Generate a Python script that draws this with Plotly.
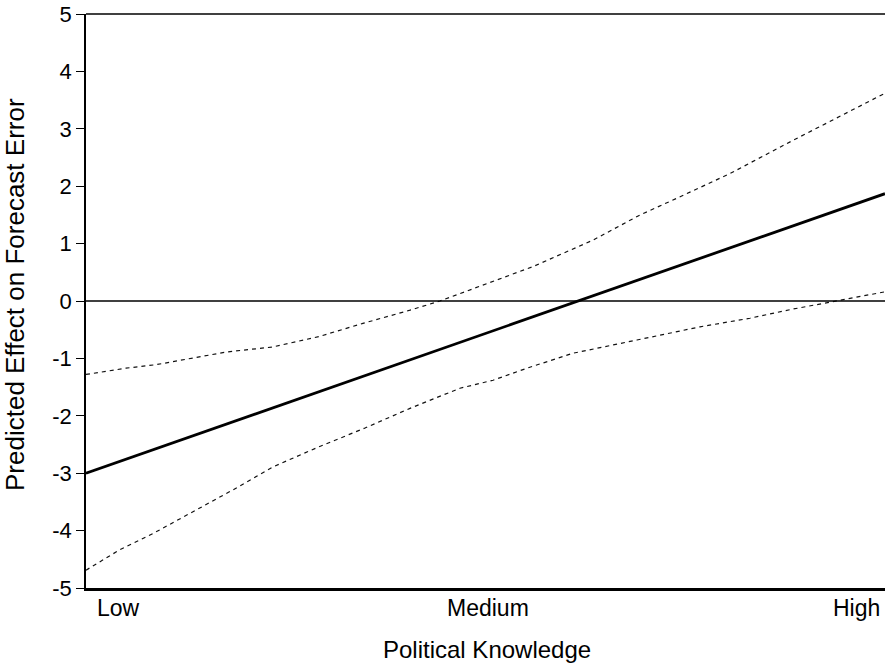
import plotly.graph_objects as go

# Data (x: 0 = Low, 1 = Medium, 2 = High)
tick_labels = ["Low", "Medium", "High"]
tick_positions = [0, 1, 2]

effect_x = [0.0, 2.0]
effect_y = [-3.0, 1.87]

upper_x = [0.0, 0.100, 0.175, 0.250, 0.350, 0.468, 0.583, 0.693, 0.811, 0.886,
           1.019, 1.119, 1.269, 1.387, 1.479, 1.612, 1.770, 1.887, 2.0]
upper_y = [-1.28, -1.17, -1.11, -1.02, -0.89, -0.80, -0.62, -0.39, -0.16, 0.0,
           0.34, 0.60, 1.06, 1.50, 1.79, 2.22, 2.80, 3.21, 3.62]

lower_x = [0.0, 0.083, 0.168, 0.275, 0.368, 0.468, 0.583, 0.696, 0.811, 0.936,
           1.019, 1.104, 1.219, 1.379, 1.537, 1.662, 1.770, 2.0]
lower_y = [-4.69, -4.34, -4.05, -3.64, -3.29, -2.89, -2.54, -2.22, -1.87, -1.52,
           -1.38, -1.17, -0.91, -0.68, -0.45, -0.30, -0.14, 0.16]

y_ticks = [-5, -4, -3, -2, -1, 0, 1, 2, 3, 4, 5]
y_tick_text = ["-5", "-4", "-3", "-2", "-1", "0", "1", "2", "3", "4", "5"]

FONT = "Liberation Sans, Arial, sans-serif"

fig = go.Figure()
fig.add_trace(go.Scatter(x=upper_x, y=upper_y, mode="lines",
                         line=dict(color="#111111", width=1.2, dash="4px,4px"),
                         showlegend=False, hoverinfo="skip"))
fig.add_trace(go.Scatter(x=lower_x, y=lower_y, mode="lines",
                         line=dict(color="#111111", width=1.2, dash="4px,4px"),
                         showlegend=False, hoverinfo="skip"))
fig.add_trace(go.Scatter(x=effect_x, y=effect_y, mode="lines",
                         line=dict(color="black", width=2.8),
                         showlegend=False))

# zero reference line
fig.add_shape(type="line", xref="paper", x0=0, x1=1, yref="y", y0=0, y1=0,
              line=dict(color="black", width=1.3))
# top border
fig.add_shape(type="line", xref="paper", x0=0, x1=1, yref="paper", y0=1, y1=1,
              line=dict(color="black", width=1.5))

# x tick labels
anchors = ["left", "center", "right"]
shifts = [9, 2, -3]
for pos, lab, anc, sh in zip(tick_positions, tick_labels, anchors, shifts):
    fig.add_annotation(x=pos, xref="x", y=0, yref="paper", text=lab,
                       showarrow=False, xanchor=anc, yanchor="middle",
                       xshift=sh, yshift=-20,
                       font=dict(family=FONT, size=23, color="black"))

fig.add_annotation(x=0.5, xref="paper", y=0, yref="paper",
                   text="Political Knowledge", showarrow=False,
                   xanchor="center", yanchor="middle", yshift=-61, xshift=1,
                   font=dict(family=FONT, size=24, color="black"))
fig.add_annotation(x=0, xref="paper", y=0.5, yref="paper",
                   text="Predicted Effect on Forecast Error", showarrow=False,
                   textangle=-90, xanchor="center", yanchor="middle",
                   xshift=-71, yshift=6,
                   font=dict(family=FONT, size=26, color="black"))

fig.update_layout(
    width=885, height=665,
    margin=dict(l=86, r=0, t=14, b=77),
    paper_bgcolor="white", plot_bgcolor="white",
    font=dict(family=FONT, size=22, color="black"),
    xaxis=dict(range=[0, 2], showgrid=False, zeroline=False,
               showticklabels=False, ticks="",
               showline=True, linecolor="black", linewidth=2.5),
    yaxis=dict(range=[-5, 5], tickvals=y_ticks, ticktext=y_tick_text,
               showgrid=False, zeroline=False,
               ticks="outside", ticklen=8, tickwidth=1.2, tickcolor="black",
               showline=True, linecolor="black", linewidth=1.5,
               tickfont=dict(family=FONT, size=22, color="black")),
)

fig.write_html("out.html", config={"displayModeBar": False},
               post_script="document.body.style.margin='0';document.body.style.padding='0';")
